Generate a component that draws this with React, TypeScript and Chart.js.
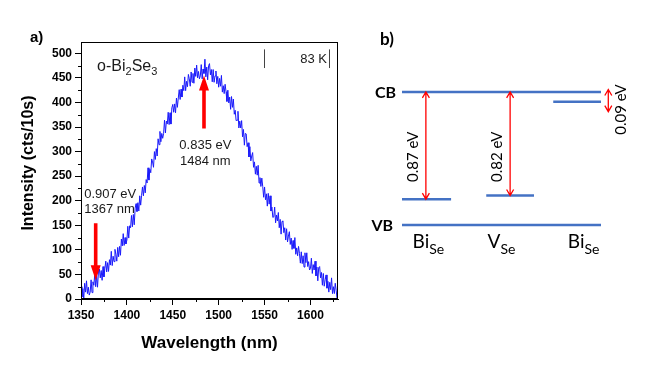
import React, { useEffect, useRef } from "react";
import { Chart, registerables } from "chart.js";

Chart.register(...registerables);

// ---------- Panel a) data ----------
const WL_START = 1350; // nm, first sample
const WL_STEP = 1; // nm between samples
const intensity = [
  25, 4, 21, 1, 32, 14, 37, 11, 24, 8,
  14, 39, 13, 35, 28, 51, 25, 47, 24, 55,
  61, 43, 58, 38, 66, 45, 62, 77, 55, 74,
  56, 80, 69, 97, 68, 87, 76, 101, 91, 77,
  105, 86, 107, 89, 122, 108, 133, 109, 125, 112,
  120, 148, 124, 149, 145, 170, 147, 172, 151, 185,
  194, 178, 196, 179, 210, 191, 211, 228, 210, 231,
  216, 243, 236, 267, 242, 264, 257, 285, 279, 268,
  300, 284, 306, 291, 326, 314, 341, 320, 337, 327,
  337, 364, 338, 362, 356, 380, 355, 379, 356, 389,
  396, 380, 397, 379, 409, 390, 409, 426, 406, 427,
  411, 435, 424, 452, 424, 443, 432, 457, 448, 433,
  462, 441, 459, 439, 470, 453, 476, 450, 463, 448,
  454, 477, 448, 468, 459, 488, 452, 472, 446, 475,
  479, 456, 467, 442, 467, 441, 454, 464, 438, 453,
  431, 449, 433, 455, 421, 434, 418, 437, 422, 402,
  425, 399, 411, 386, 412, 390, 407, 376, 384, 363,
  364, 382, 348, 362, 348, 363, 330, 345, 313, 337,
  336, 310, 318, 289, 310, 281, 291, 298, 268, 279,
  254, 270, 252, 272, 236, 247, 229, 246, 229, 207,
  228, 202, 214, 189, 215, 193, 210, 179, 187, 166,
  167, 187, 155, 171, 159, 176, 145, 162, 132, 158,
  159, 135, 145, 120, 143, 116, 128, 137, 111, 124,
  101, 119, 103, 125, 91, 104, 88, 107, 93, 73,
  96, 72, 88, 65, 94, 74, 94, 66, 76, 59,
  62, 83, 52, 70, 59, 77, 47, 65, 37, 64,
  66, 43, 54, 28, 52, 26, 39, 49, 22, 36,
  14, 34, 19, 43, 11, 25, 11, 32, 18, 0,
];

const X_TICKS = [1350, 1400, 1450, 1500, 1550, 1600];
const X_MINOR = [1375, 1425, 1475, 1525, 1575, 1625];
const Y_TICKS = [0, 50, 100, 150, 200, 250, 300, 350, 400, 450, 500];
const Y_MINOR = [25, 75, 125, 175, 225, 275, 325, 375, 425, 475];

// arrows: [wavelength, from intensity, to intensity]
const PEAK_ARROW = [1484, 347, 455];
const EDGE_ARROW = [1366, 154, 38];
const PEAK_TEXT = ["0.835 eV", "1484 nm"];
const EDGE_TEXT = ["0.907 eV", "1367 nm"];
const LEGEND_TEXT = "83 K";

// ---------- Panel b) data ----------
const LEVEL_E = [1.08, 0, 0.21, 0.24, 1.0]; // CB, VB, Bi_Se deep, V_Se, Bi_Se shallow
const LEVEL_X0 = [0, 0, 0, 1.27, 2.28];
const LEVEL_X1 = [3, 3, 0.74, 1.99, 3];
const TRANS_X = [0.36, 1.63, 3.11];
const TRANS_FROM = [0.21, 0.24, 0.92];
const TRANS_TO = [1.08, 1.08, 1.1];
const TRANS_LABEL = ["0.87 eV", "0.82 eV", "0.09 eV"];
const TRANS_LABEL_X = [0.166, 1.43, 3.31];
const TRANS_LABEL_Y = [0.554, 0.554, 0.937];
const SITE_MAIN = ["Bi", "V", "Bi"];
const SITE_SUB = ["Se", "Se", "Se"];
const SITE_X = [0.16, 1.29, 2.5];
const BAND_LABELS = ["CB", "VB"];

const SANS = "'Liberation Sans', Arial, sans-serif";
const CAL = "Lato, 'Open Sans', sans-serif";

function fatArrow(ctx: CanvasRenderingContext2D, x: number, yFrom: number, yTo: number) {
  const dir = yTo < yFrom ? -1 : 1;
  const headLen = 15, headW = 5, shaftW = 1.8;
  const yBase = yTo - dir * headLen;
  ctx.beginPath();
  ctx.moveTo(x - shaftW, yFrom);
  ctx.lineTo(x - shaftW, yBase);
  ctx.lineTo(x - headW, yBase);
  ctx.lineTo(x, yTo);
  ctx.lineTo(x + headW, yBase);
  ctx.lineTo(x + shaftW, yBase);
  ctx.lineTo(x + shaftW, yFrom);
  ctx.closePath();
  ctx.fill();
}

function thinDoubleArrow(ctx: CanvasRenderingContext2D, x: number, yA: number, yB: number) {
  const top = Math.min(yA, yB), bot = Math.max(yA, yB);
  const hl = 6, hw = 3.5;
  ctx.beginPath();
  ctx.moveTo(x, top);
  ctx.lineTo(x, bot);
  ctx.moveTo(x - hw, top + hl);
  ctx.lineTo(x, top);
  ctx.lineTo(x + hw, top + hl);
  ctx.moveTo(x - hw, bot - hl);
  ctx.lineTo(x, bot);
  ctx.lineTo(x + hw, bot - hl);
  ctx.stroke();
}

function SpectrumChart() {
  const ref = useRef<HTMLCanvasElement>(null);
  useEffect(() => {
    const canvas = ref.current!;
    const points = intensity.map((v, i) => ({ x: WL_START + i * WL_STEP, y: v }));
    const tickFont = { family: SANS, size: 12, weight: "bold" as const };
    const annot = {
      id: "annotA",
      afterDraw(chart: any) {
        const { ctx, chartArea: ca, scales } = chart;
        const xs = scales.x, ys = scales.y;
        ctx.save();
        // frame
        ctx.strokeStyle = "#000";
        ctx.lineWidth = 1;
        ctx.strokeRect(ca.left + 0.5, ca.top + 0.5, ca.right - ca.left - 1, ca.bottom - ca.top - 1);
        // minor ticks
        ctx.beginPath();
        X_MINOR.forEach((v) => {
          const px = Math.round(xs.getPixelForValue(v)) + 0.5;
          ctx.moveTo(px, ca.bottom);
          ctx.lineTo(px, ca.bottom + 3);
        });
        Y_MINOR.forEach((v) => {
          const py = Math.round(ys.getPixelForValue(v)) + 0.5;
          ctx.moveTo(ca.left, py);
          ctx.lineTo(ca.left - 3, py);
        });
        ctx.stroke();
        // y title
        ctx.fillStyle = "#000";
        ctx.font = `bold 16px ${SANS}`;
        ctx.textAlign = "center";
        ctx.textBaseline = "middle";
        ctx.translate(29, 163);
        ctx.rotate(-Math.PI / 2);
        ctx.fillText("Intensity (cts/10s)", 0, 0);
        ctx.setTransform(1, 0, 0, 1, 0, 0);
        // panel label
        ctx.font = `bold 15px ${SANS}`;
        ctx.textAlign = "left";
        ctx.textBaseline = "alphabetic";
        ctx.fillText("a)", 30, 42);
        // arrows
        ctx.fillStyle = "#ff0000";
        fatArrow(ctx, xs.getPixelForValue(PEAK_ARROW[0]), ys.getPixelForValue(PEAK_ARROW[1]), ys.getPixelForValue(PEAK_ARROW[2]));
        fatArrow(ctx, xs.getPixelForValue(EDGE_ARROW[0]), ys.getPixelForValue(EDGE_ARROW[1]), ys.getPixelForValue(EDGE_ARROW[2]));
        // annotation texts
        ctx.fillStyle = "#1a1a1a";
        ctx.font = `13px ${SANS}`;
        ctx.textAlign = "center";
        ctx.fillText(PEAK_TEXT[0], xs.getPixelForValue(1485.5), ys.getPixelForValue(305));
        ctx.fillText(PEAK_TEXT[1], xs.getPixelForValue(1485.5), ys.getPixelForValue(272));
        ctx.textAlign = "left";
        ctx.fillText(EDGE_TEXT[0], xs.getPixelForValue(1353.5), ys.getPixelForValue(206));
        ctx.fillText(EDGE_TEXT[1], xs.getPixelForValue(1353.5), ys.getPixelForValue(175));
        // sample name o-Bi2Se3
        let cx = xs.getPixelForValue(1367.5);
        const by = ys.getPixelForValue(464);
        const parts: [string, boolean][] = [["o-Bi", false], ["2", true], ["Se", false], ["3", true]];
        parts.forEach(([t, sub]) => {
          ctx.font = sub ? `11px ${SANS}` : `16px ${SANS}`;
          ctx.fillText(t, cx, sub ? by + 4 : by);
          cx += ctx.measureText(t).width;
        });
        // legend "83 K"
        ctx.textAlign = "right";
        ctx.font = `13px ${SANS}`;
        ctx.fillText(LEGEND_TEXT, xs.getPixelForValue(1618), ys.getPixelForValue(481));
        ctx.strokeStyle = "#444";
        ctx.beginPath();
        [1549.6, 1620.3].forEach((v) => {
          const px = Math.round(xs.getPixelForValue(v)) + 0.5;
          ctx.moveTo(px, ys.getPixelForValue(508));
          ctx.lineTo(px, ys.getPixelForValue(470));
        });
        ctx.stroke();
        ctx.restore();
      },
    };
    const chart = new Chart(canvas, {
      type: "line",
      data: {
        datasets: [
          {
            data: points,
            borderColor: "rgb(25,25,250)",
            borderWidth: 1,
            pointRadius: 0,
            tension: 0,
          },
        ],
      },
      options: {
        animation: false,
        responsive: false,
        maintainAspectRatio: false,
        layout: { padding: { left: 0, top: 42, right: 12, bottom: 15 } },
        plugins: { legend: { display: false }, tooltip: { enabled: false } },
        scales: {
          x: {
            type: "linear",
            min: 1350,
            max: 1630,
            afterFit: (s: any) => {
              s.height = 60;
            },
            afterBuildTicks: (s: any) => {
              s.ticks = X_TICKS.map((v) => ({ value: v }));
            },
            ticks: { font: tickFont, color: "#000", padding: 3, maxRotation: 0, autoSkip: false, callback: (v: any) => String(v) },
            grid: { drawOnChartArea: false, tickLength: 6, color: "#000", tickColor: "#000" },
            border: { color: "#000", width: 1 },
            title: {
              display: true,
              text: "Wavelength (nm)",
              font: { family: SANS, size: 17, weight: "bold" },
              color: "#000",
              padding: { top: 0, bottom: 5 },
            },
          },
          y: {
            type: "linear",
            min: 0,
            max: 523,
            afterFit: (s: any) => {
              s.width = 81;
            },
            afterBuildTicks: (s: any) => {
              s.ticks = Y_TICKS.map((v) => ({ value: v }));
            },
            ticks: { font: tickFont, color: "#000", padding: 3, autoSkip: false, callback: (v: any) => String(v) },
            grid: { drawOnChartArea: false, tickLength: 6, color: "#000", tickColor: "#000" },
            border: { color: "#000", width: 1 },
          },
        },
      },
      plugins: [annot],
    } as any);
    return () => chart.destroy();
  }, []);
  return (
    <canvas
      ref={ref}
      width={350}
      height={374}
      style={{ position: "absolute", left: 0, top: 0, width: 350, height: 374 }}
    />
  );
}

function LevelChart() {
  const ref = useRef<HTMLCanvasElement>(null);
  useEffect(() => {
    const canvas = ref.current!;
    const datasets = LEVEL_E.map((e, i) => ({
      data: [
        { x: LEVEL_X0[i], y: e },
        { x: LEVEL_X1[i], y: e },
      ],
      borderColor: "#4472C4",
      borderWidth: 2.5,
      pointRadius: 0,
      tension: 0,
      clip: false,
    }));
    const annot = {
      id: "annotB",
      afterDraw(chart: any) {
        const { ctx, scales } = chart;
        const xs = scales.x, ys = scales.y;
        ctx.save();
        // transitions
        ctx.strokeStyle = "#ff0000";
        ctx.lineWidth = 1.3;
        TRANS_X.forEach((tx, i) => {
          thinDoubleArrow(ctx, xs.getPixelForValue(tx), ys.getPixelForValue(TRANS_FROM[i]), ys.getPixelForValue(TRANS_TO[i]));
        });
        ctx.fillStyle = "#000";
        ctx.textAlign = "center";
        ctx.textBaseline = "middle";
        ctx.font = `15px ${CAL}`;
        TRANS_LABEL.forEach((t, i) => {
          ctx.save();
          ctx.translate(xs.getPixelForValue(TRANS_LABEL_X[i]), ys.getPixelForValue(TRANS_LABEL_Y[i]));
          ctx.rotate(-Math.PI / 2);
          ctx.fillText(t, 0, 0);
          ctx.restore();
        });
        // band labels
        ctx.font = `bold 16px ${CAL}`;
        ctx.textAlign = "right";
        ctx.fillText(BAND_LABELS[0], xs.getPixelForValue(-0.09), ys.getPixelForValue(LEVEL_E[0]) + 1);
        ctx.fillText(BAND_LABELS[1], xs.getPixelForValue(-0.135), ys.getPixelForValue(LEVEL_E[1]) + 1);
        // site labels
        ctx.textAlign = "left";
        ctx.textBaseline = "alphabetic";
        SITE_MAIN.forEach((m, i) => {
          let cx = xs.getPixelForValue(SITE_X[i]);
          const by = ys.getPixelForValue(-0.19);
          ctx.font = `19px ${CAL}`;
          ctx.fillText(m, cx, by);
          cx += ctx.measureText(m).width;
          ctx.font = `14px ${CAL}`;
          ctx.fillText(SITE_SUB[i], cx, by + 6);
        });
        // panel label
        ctx.font = `bold 17px ${CAL}`;
        ctx.fillText("b)", 30, 45);
        ctx.restore();
      },
    };
    const chart = new Chart(canvas, {
      type: "line",
      data: { datasets },
      options: {
        animation: false,
        responsive: false,
        maintainAspectRatio: false,
        layout: { padding: { left: 52, right: 63, top: 42, bottom: 75 } },
        plugins: { legend: { display: false }, tooltip: { enabled: false } },
        scales: {
          x: { type: "linear", min: 0, max: 3, display: false },
          y: { type: "linear", min: -0.6, max: 1.485, display: false },
        },
      },
      plugins: [annot],
    } as any);
    return () => chart.destroy();
  }, []);
  return (
    <canvas
      ref={ref}
      width={314}
      height={374}
      style={{ position: "absolute", left: 350, top: 0, width: 314, height: 374 }}
    />
  );
}

export default function App() {
  return (
    <div
      style={{
        position: "fixed",
        left: 0,
        top: 0,
        width: 664,
        height: 374,
        background: "#fff",
        overflow: "hidden",
      }}
    >
      <SpectrumChart />
      <LevelChart />
    </div>
  );
}
